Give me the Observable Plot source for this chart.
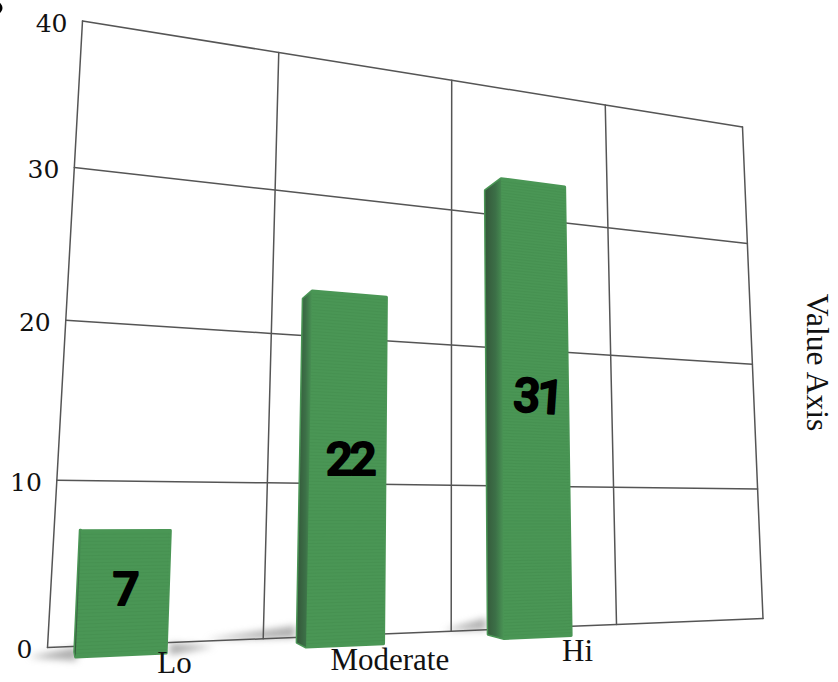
<!DOCTYPE html>
<html>
<head>
<meta charset="utf-8">
<script src="https://cdn.jsdelivr.net/npm/d3@7"></script>
<script src="https://cdn.jsdelivr.net/npm/@observablehq/plot@0.6"></script>
<style>
  html, body { margin: 0; padding: 0; background: #fff; }
  .bar-value text { letter-spacing: -3px; }
</style>
</head>
<body>
<div id="chart"></div>
<script>
// Chart content
const categories = ["Lo", "Moderate", "Hi"];
const seriesValues = [7, 22, 31];
const valueTicks = [0, 10, 20, 30, 40];
const slotBounds = [0, 1, 2, 3, 4];
const valueAxisTitle = "Value Axis";

// Depth planes of the tilted scene
const WALL = 0, FRONT = 1, REAR = 2;

// Solves the 3x3 homography taking the unit slot/value rectangle onto a quad
function quadMapper([tl, tr, br, bl]) {
  const [x0, y0] = bl, [x1, y1] = br, [x2, y2] = tr, [x3, y3] = tl;
  const dx1 = x1 - x2, dx2 = x3 - x2, sx = x0 - x1 + x2 - x3;
  const dy1 = y1 - y2, dy2 = y3 - y2, sy = y0 - y1 + y2 - y3;
  const d = dx1 * dy2 - dx2 * dy1;
  const g = (sx * dy2 - dx2 * sy) / d, h = (dx1 * sy - sx * dy1) / d;
  const a = x1 - x0 + g * x1, b = x3 - x0 + h * x3;
  const c = y1 - y0 + g * y1, e = y3 - y0 + h * y3;
  return (s, t) => {
    const w = g * s + h * t + 1;
    return [(a * s + b * t + x0) / w, (c * s + e * t + y0) / w];
  };
}

// Corner placement of the gridded wall and of the plane holding the bar fronts
const wallMap = quadMapper([[82, 20.5], [742, 126.5], [762.5, 618], [47, 647]]);
const frontMap = quadMapper([[33, -30], [760, 101], [781, 626], [-5, 660]]);

// Rear edge of a bar: the front point pulled toward the vanishing point
const VANISH = [50, 515], REAR_SCALE = 0.965;

const sceneProjection = d3.geoTransform({
  point(slot, value, plane) {
    const s = slot / 4, t = value / 40;
    let p = plane ? frontMap(s, t) : wallMap(s, t);
    if (plane === REAR) {
      p = [VANISH[0] + (p[0] - VANISH[0]) * REAR_SCALE,
           VANISH[1] + (p[1] - VANISH[1]) * REAR_SCALE];
    }
    this.stream.point(p[0], p[1]);
  }
});

// Bar width within its category slot
const BAR_HALF = 0.187;
const polygon = (ring) => ({type: "Polygon", coordinates: [[...ring, ring[0]]]});

// Where the texts sit on the wall plane
const labelSlots = [0.33, 1.43, 2.52];
const labelHeights = [3.3, 11.6, 16.5];
const labelTilt = [0, 0, 4];
const categorySlots = [0.575, 1.66, 2.75];
const categoryHeights = [-1.25, -1.72, -1.75];

// Soft contact shadows on the floor, as slot/value rings
const shadowRings = [
  [[-0.08, -0.5], [0.13, -0.05], [0.13, -0.85]],
  [[0.55, -0.05], [0.76, -0.35], [0.55, -0.75]],
  [[0.72, 0.1], [1.16, 0.75], [1.16, 0.0]],
  [[1.96, 0.1], [2.2, 0.8], [2.2, 0.0]]
];

const bars = seriesValues.map((value, i) => {
  const l = i + 0.5 - BAR_HALF, r = i + 0.5 + BAR_HALF;
  // fine horizontal grain across the bar
  const grain = d3.range(0.2, value, 0.2).map((v) => [
    [l, v, FRONT], [r, v, FRONT]
  ]);
  return {
    category: categories[i],
    value,
    silhouette: polygon([
      [l, 0, REAR], [l, value, REAR], [l, value, FRONT], [r, value, FRONT], [r, 0, FRONT], [l, 0, FRONT]
    ]),
    side: polygon([[l, 0, REAR], [l, value, REAR], [l, value, FRONT], [l, 0, FRONT]]),
    grain: {type: "MultiLineString", coordinates: grain}
  };
});

const gridH = valueTicks.map((v) => slotBounds.map((s) => ({s, v})));
const gridV = slotBounds.map((s) => valueTicks.map((v) => ({s, v})));

// Horizontal shade for the bar side faces
function sideGradient() {
  const ns = "http://www.w3.org/2000/svg";
  const defs = document.createElementNS(ns, "defs");
  const grad = document.createElementNS(ns, "linearGradient");
  grad.setAttribute("id", "bar-side");
  for (const [offset, color] of [["0%", "#34583a"], ["55%", "#3c7047"], ["100%", "#4a9655"]]) {
    const stop = document.createElementNS(ns, "stop");
    stop.setAttribute("offset", offset);
    stop.setAttribute("stop-color", color);
    grad.appendChild(stop);
  }
  defs.appendChild(grad);
  return defs;
}

const SERIF = "'Liberation Serif', serif";
const SLAB = "'DejaVu Serif', serif";
const MARKER = "Roboto, sans-serif";
const BAR_GREEN = "#4a9655";

const plot = Plot.plot({
  width: 838,
  height: 682,
  margin: 0,
  projection: sceneProjection,
  style: {background: "#fff"},
  marks: [
    sideGradient,
    // floor shadows
    Plot.geo(shadowRings.map(polygon), {fill: "#777", fillOpacity: 0.6, imageFilter: "blur(3.5px)"}),
    // wall grid
    ...gridH.map((row) => Plot.line(row, {x: "s", y: "v", stroke: "#555", strokeWidth: 1.5})),
    ...gridV.map((col) => Plot.line(col, {x: "s", y: "v", stroke: "#555", strokeWidth: 1.5})),
    // bars
    Plot.geo(bars.map((d) => d.silhouette), {fill: BAR_GREEN, stroke: BAR_GREEN, strokeWidth: 3, strokeLinejoin: "round"}),
    Plot.geo(bars.map((d) => d.grain), {stroke: "#2c6f3a", strokeOpacity: 0.14, strokeWidth: 0.9}),
    Plot.geo(bars.map((d) => d.side), {fill: "url(#bar-side)"}),
    // value labels on the bars
    Plot.text(bars, {
      x: (d, i) => labelSlots[i], y: (d, i) => labelHeights[i], rotate: (d, i) => labelTilt[i],
      text: (d) => String(d.value), className: "bar-value",
      fontFamily: MARKER, fontWeight: 500, fontSize: 47,
      fill: "#000", stroke: "#000", strokeWidth: 2.2, strokeLinejoin: "round"
    }),
    // value axis tick labels
    Plot.text(valueTicks, {
      x: 0, y: (d) => d, text: (d) => String(d), textAnchor: "end", dx: -15, dy: 2.5,
      fontFamily: SLAB, fontSize: 25, fill: "#111"
    }),
    // category labels
    Plot.text(bars, {
      x: (d, i) => categorySlots[i], y: (d, i) => categoryHeights[i], text: "category",
      fontFamily: SERIF, fontSize: 31, fill: "#111"
    }),
    Plot.text([valueAxisTitle], {
      frameAnchor: "middle", dx: 398, dy: 21, rotate: 90, text: (d) => d,
      fontFamily: SERIF, fontSize: 31.5, fill: "#111"
    }),
    // sliver of a panel marker at the corner of the frame
    Plot.dot([0], {frameAnchor: "top-left", dx: -4, dy: 7.5, r: 6, fill: "#000"})
  ]
});
document.getElementById("chart").appendChild(plot);
</script>
</body>
</html>
